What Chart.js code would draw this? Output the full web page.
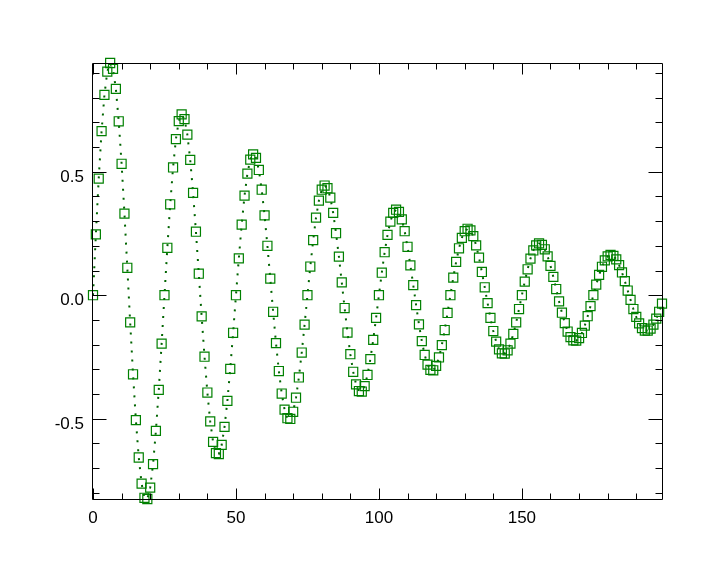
<!DOCTYPE html>
<html>
<head>
<meta charset="utf-8">
<script src="https://cdn.jsdelivr.net/npm/chart.js@4/dist/chart.umd.min.js"></script>
<style>
  html, body { margin: 0; padding: 0; background: #fff; }
  canvas { display: block; }
</style>
</head>
<body>
<canvas id="waveChart" width="720" height="575"></canvas>
<script>
// values, one sample per x step, 25 samples per swing
const cycle1 = [0.000, 0.246, 0.472, 0.664, 0.811, 0.905, 0.940, 0.916, 0.835, 0.704, 0.532, 0.330, 0.111,
  -0.110, -0.320, -0.506, -0.657, -0.763, -0.820, -0.825, -0.779, -0.684, -0.549, -0.383, -0.196];
const cycle2 = [0.000, 0.192, 0.368, 0.517, 0.632, 0.705, 0.732, 0.713, 0.650, 0.548, 0.414, 0.257, 0.087,
  -0.086, -0.249, -0.394, -0.511, -0.594, -0.639, -0.643, -0.606, -0.533, -0.428, -0.298, -0.152];
const cycle3 = [0.000, 0.149, 0.286, 0.403, 0.492, 0.549, 0.570, 0.556, 0.507, 0.427, 0.323, 0.200, 0.067,
  -0.067, -0.194, -0.307, -0.398, -0.463, -0.498, -0.501, -0.472, -0.415, -0.333, -0.232, -0.119];
const cycle4 = [0.000, 0.116, 0.223, 0.314, 0.383, 0.427, 0.444, 0.433, 0.395, 0.333, 0.251, 0.156, 0.052,
  -0.052, -0.151, -0.239, -0.310, -0.361, -0.388, -0.390, -0.368, -0.323, -0.259, -0.181, -0.092];
const cycle5 = [0.000, 0.091, 0.174, 0.244, 0.298, 0.333, 0.346, 0.337, 0.307, 0.259, 0.196, 0.121, 0.041,
  -0.040, -0.118, -0.186, -0.242, -0.281, -0.302, -0.304, -0.286, -0.252, -0.202, -0.141, -0.072];
const cycle6 = [0.000, 0.071, 0.135, 0.190, 0.232, 0.259, 0.269, 0.262, 0.239, 0.202, 0.152, 0.094, 0.032,
  -0.032, -0.092, -0.145, -0.188, -0.219, -0.235, -0.236, -0.223, -0.196, -0.157, -0.110, -0.056];
const cycle7 = [0.000, 0.055, 0.105, 0.148, 0.181, 0.202, 0.210, 0.204, 0.186, 0.157, 0.119, 0.074, 0.025,
  -0.025, -0.071, -0.113, -0.147, -0.170, -0.183, -0.184, -0.174, -0.153, -0.123, -0.085, -0.044];
const cycle8 = [0.000, 0.043, 0.082, 0.115, 0.141, 0.157, 0.163, 0.159, 0.145, 0.122, 0.092, 0.057, 0.019,
  -0.019, -0.056, -0.088, -0.114, -0.133, -0.143, -0.143, -0.135, -0.119, -0.095, -0.067, -0.034];

const samples = [].concat(cycle1, cycle2, cycle3, cycle4, cycle5, cycle6, cycle7, cycle8);

const xMajorTicks = [0, 50, 100, 150];
const xMinorTicks = [10, 20, 30, 40, 60, 70, 80, 90, 110, 120, 130, 140, 160, 170, 180, 190];
const yMajorTicks = [-0.5, 0.0, 0.5];
const yMajorLabels = ['-0.5', '0.0', '0.5'];
const yMinorTicks = [-0.8, -0.7, -0.6, -0.4, -0.3, -0.2, -0.1, 0.1, 0.2, 0.3, 0.4, 0.6, 0.7, 0.8, 0.9];

const points = samples.map((v, i) => ({ x: i, y: v }));
const green = '#008000';

// IDL-style box: inward ticks on all four sides, labels on left and bottom
const boxAxes = {
  id: 'boxAxes',
  afterDatasetsDraw(chart) {
    const { ctx, chartArea: a, scales: { x, y } } = chart;
    const L = a.left - 0.5, R = a.right + 0.5, T = a.top + 0.5, B = a.bottom + 0.5;
    ctx.save();
    ctx.strokeStyle = '#000';
    ctx.lineWidth = 1;
    ctx.beginPath();
    ctx.rect(L, T, R - L, B - T);

    const xTick = (v, len) => {
      const px = Math.round(x.getPixelForValue(v)) + 0.5;
      ctx.moveTo(px, B); ctx.lineTo(px, B - len);
      ctx.moveTo(px, T); ctx.lineTo(px, T + len);
    };
    const yTick = (v, len) => {
      const py = Math.round(y.getPixelForValue(v)) + 0.5;
      ctx.moveTo(L, py); ctx.lineTo(L + len, py);
      ctx.moveTo(R, py); ctx.lineTo(R - len, py);
    };
    xMajorTicks.forEach(v => xTick(v, 11));
    xMinorTicks.forEach(v => xTick(v, 6));
    yMajorTicks.forEach(v => yTick(v, 14));
    yMinorTicks.forEach(v => yTick(v, 7));
    ctx.stroke();

    ctx.fillStyle = '#000';
    ctx.font = '17px "Liberation Sans", Arial, sans-serif';
    ctx.textBaseline = 'alphabetic';
    ctx.textAlign = 'center';
    xMajorTicks.forEach(v => {
      ctx.fillText(String(v), x.getPixelForValue(v), a.bottom + 24);
    });
    ctx.textAlign = 'right';
    yMajorTicks.forEach((v, i) => {
      ctx.fillText(yMajorLabels[i], a.left - 9, y.getPixelForValue(v) + 10);
    });
    ctx.restore();
  }
};

new Chart(document.getElementById('waveChart').getContext('2d'), {
  type: 'line',
  data: {
    datasets: [{
      data: points,
      borderColor: '#006400',
      borderWidth: 2,
      borderDash: [2, 7],
      pointStyle: 'rect',
      pointRadius: 6.4,
      pointBorderWidth: 1.2,
      pointBorderColor: green,
      pointBackgroundColor: 'rgba(0,0,0,0)',
      tension: 0,
      clip: false
    }]
  },
  options: {
    responsive: false,
    animation: false,
    layout: { padding: { left: 93, right: 58, top: 63, bottom: 76 } },
    plugins: { legend: { display: false }, tooltip: { enabled: false } },
    scales: {
      x: { type: 'linear', min: 0, max: 199, display: false },
      y: { type: 'linear', min: -0.825, max: 0.940, display: false }
    }
  },
  plugins: [boxAxes]
});
</script>
</body>
</html>
